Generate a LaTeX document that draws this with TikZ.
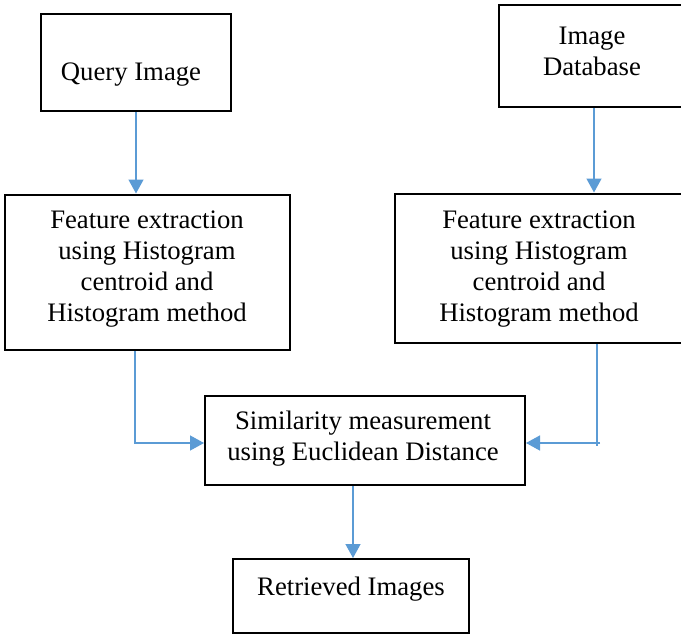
\documentclass[tikz,border=0pt]{standalone}
\usepackage{fontspec}
\setmainfont{Liberation Serif}
\usetikzlibrary{arrows.meta,calc}
\definecolor{flowblue}{HTML}{5B9BD5}
\tikzset{
  box/.style={draw=black, line width=2pt, rectangle, inner sep=0pt},
  label text/.style={align=center, inner sep=0pt,
    font=\fontsize{26.7}{31}\selectfont},
  flowline/.style={draw=flowblue, line width=1.4pt},
  flow/.style={flowline, -{Triangle[length=14pt,width=15pt]}}
}
\begin{document}
\begin{tikzpicture}[x=1pt,y=-1pt]
  \useasboundingbox (0,0) rectangle (681,635);
  \fill[white] (0,0) rectangle (681,635);

  % boxes
  \node[box, minimum width=190, minimum height=97.5] (q) at (135.5,62.25) {};
  \node[box, minimum width=185.5, minimum height=102] (db) at (591.25,56) {};
  \node[box, minimum width=285, minimum height=155.5] (fl) at (147.5,272.25) {};
  \node[box, minimum width=289, minimum height=149.5] (fr) at (539.5,268.25) {};
  \node[box, minimum width=320, minimum height=89.5] (sim) at (365,440.25) {};
  \node[box, minimum width=236, minimum height=74] (ret) at (351,596) {};

  % texts
  \node[label text] (qt) at (131,74.5) {Query Image};
  \node[label text] (dbt) at (592,51) {Image\\Database};
  \node[label text] (flt) at (147,269.5) {Feature extraction\\using Histogram\\centroid and\\Histogram method};
  \node[label text] (frt) at (539,269) {Feature extraction\\using Histogram\\centroid and\\Histogram method};
  \node[label text] (simt) at (363,439) {Similarity measurement\\using Euclidean Distance};
  \node[label text] (rett) at (351,589.5) {Retrieved Images};

  % connectors
  \coordinate (qa) at ($(q.south)+(0.5,0)$);
  \draw[flow] (qa) -- (qa |- fl.north);

  \coordinate (dba) at ($(db.south)+(2.75,0)$);
  \draw[flow] (dba) -- (dba |- fr.north);

  \coordinate (la) at ($(fl.south)+(-12.5,0)$);
  \coordinate (li) at ($(sim.west)+(0,2.75)$);
  \draw[flow] (la) |- (li);

  \coordinate (ra) at ($(fr.south)+(57.5,0)$);
  \coordinate (ri) at ($(sim.east)+(0,2.75)$);
  \coordinate (rc) at ($(ri -| ra)+(3,0)$);
  \draw[flowline] (ra) -- ($(ra |- ri)+(0,3)$);
  \draw[flow] (rc) -- (ri);

  \coordinate (sa) at ($(sim.south)+(-12,0)$);
  \draw[flow] (sa) -- (sa |- ret.north);
\end{tikzpicture}
\end{document}
